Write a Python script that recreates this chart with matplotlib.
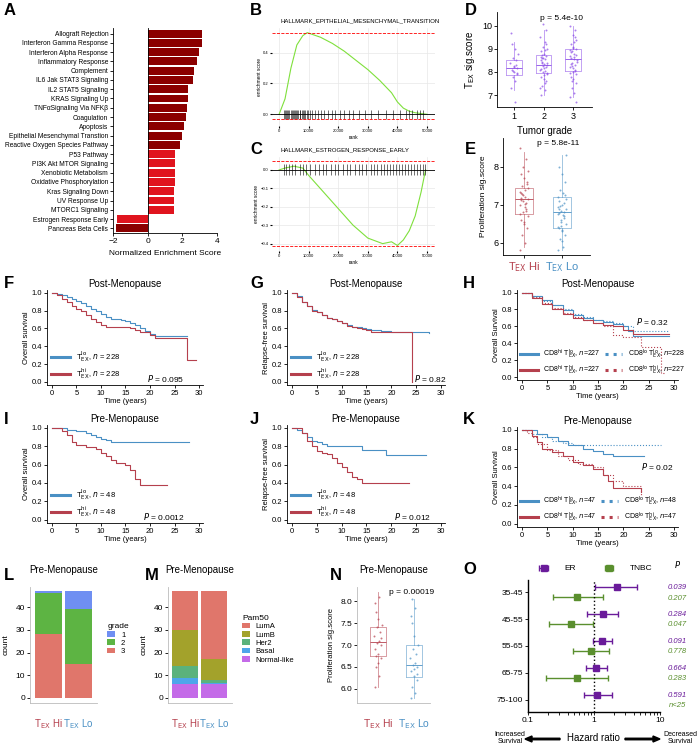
import numpy as np
import matplotlib
matplotlib.use('Agg')
from matplotlib import pyplot as plt
from matplotlib.lines import Line2D

plt.rcParams['font.family'] = ['Liberation Sans', 'DejaVu Sans']
plt.rcParams['font.size'] = 6

W, H = 700, 747
fig = plt.figure(figsize=(7, 7.47), dpi=100)

BLUE = '#4a90c4'
RED = '#b5404d'
GREEN = '#5a8f2e'
PURPLE = '#6a1b9a'

# ---- data ----
pathways = ['Allograft Rejection', 'Interferon Gamma Response', 'Interferon Alpha Response',
            'Inflammatory Response', 'Complement', 'IL6 Jak STAT3 Signaling', 'IL2 STAT5 Signaling',
            'KRAS Signaling Up', 'TNFαSignaling Via NFKβ', 'Coagulation', 'Apoptosis',
            'Epithelial Mesenchymal Transtion', 'Reactive Oxygen Species Pathway', 'P53 Pathway',
            'PI3K Akt MTOR Signaling', 'Xenobiotic Metabolism', 'Oxidative Phosphorylation',
            'Kras Signaling Down', 'UV Response Up', 'MTORC1 Signaling', 'Estrogen Response Early',
            'Pancreas Beta Cells']
nes = [3.15, 3.12, 2.95, 2.83, 2.65, 2.6, 2.35, 2.32, 2.28, 2.2, 2.12, 1.98, 1.88,
       1.58, 1.58, 1.56, 1.55, 1.53, 1.52, 1.5, -1.75, -1.82]
nes_colors = ['#8b0000'] * 13 + ['#e0141e'] * 7 + ['#e0141e', '#8b0000']

emt_rank = [0, 2000, 4000, 6000, 8000, 9500, 11000, 14000, 18000, 22000, 26000, 30000,
            34000, 38000, 40000, 42000, 44000, 46000, 48000, 50000]
emt_es = [0, 0.1, 0.3, 0.45, 0.51, 0.53, 0.52, 0.5, 0.46, 0.41, 0.35, 0.29, 0.22, 0.14,
          0.08, 0.04, 0.02, 0.01, 0.005, 0]
emt_hits = [1500, 2000, 2400, 2800, 3100, 3500, 3900, 4200, 4600, 5000, 5300, 5700, 6100,
            6500, 6900, 7200, 7600, 8000, 8400, 8800, 9300, 9800, 10500, 11200, 12000, 13000,
            14000, 15200, 16500, 17800, 19000, 20500, 22000, 23500, 25000, 27000, 29000, 31000,
            33500, 36000, 38500, 41000, 43000, 44000, 45000, 46500, 47500, 48500]
er_rank = [0, 2000, 5000, 8000, 10000, 15000, 20000, 25000, 30000, 35000, 38000, 40000,
           42000, 44000, 46000, 48000, 49500]
er_es = [0, 0.01, 0.02, 0.01, -0.03, -0.12, -0.21, -0.3, -0.37, -0.4, -0.39, -0.41, -0.38,
         -0.33, -0.25, -0.12, 0]
er_hits = [1500, 2500, 3500, 4500, 5500, 7000, 8000, 9000, 10500, 12000, 13500, 15000, 16000,
           17500, 19000, 20000, 21500, 23000, 24000, 25500, 27000, 28000, 29500, 31000, 32000,
           33000, 34500, 35500, 36500, 37500, 38500, 39500, 40500, 41500, 42500, 43500, 44500,
           45500, 46500, 47500, 48500, 49200]

grade_labels = ['1', '2', '3']
grade_stats = [(7.85, 8.15, 8.5, 7.2, 9.3), (7.95, 8.3, 8.75, 7.0, 9.8), (8.05, 8.55, 9.0, 6.9, 10.0)]
grade_pts = [[7.3, 7.6, 7.8, 7.9, 8.0, 8.1, 8.15, 8.2, 8.3, 8.4, 8.5, 8.6, 8.8, 9.0, 9.2, 9.7, 6.7, 8.05, 7.95, 8.25],
             [7.0, 7.2, 7.4, 7.6, 7.7, 7.8, 7.9, 8.0, 8.05, 8.1, 8.2, 8.25, 8.3, 8.35, 8.4, 8.5, 8.55, 8.6,
              8.7, 8.8, 8.9, 9.0, 9.1, 9.3, 9.5, 9.8, 10.1, 7.95, 8.15, 8.45, 8.65, 7.5, 8.75, 9.2,
              7.85, 8.12, 8.38, 8.62, 8.95, 7.3],
             [6.9, 7.1, 7.3, 7.5, 7.7, 7.8, 7.9, 8.0, 8.1, 8.2, 8.3, 8.4, 8.5, 8.55, 8.6, 8.7, 8.8, 8.9,
              9.0, 9.1, 9.2, 9.4, 9.6, 9.8, 10.0, 8.05, 8.25, 8.45, 8.65, 8.85, 8.95, 9.3, 7.6, 6.7,
              8.15, 8.35, 8.75, 9.05, 9.5, 7.95]]

prolif_stats = [(6.75, 7.15, 7.45, 5.9, 8.4), (6.4, 6.8, 7.2, 5.8, 8.3)]
prolif_pts = [[5.8, 6.0, 6.2, 6.4, 6.5, 6.6, 6.7, 6.8, 6.9, 7.0, 7.05, 7.1, 7.15, 7.2, 7.3, 7.35,
               7.4, 7.5, 7.6, 7.7, 7.8, 7.9, 8.0, 8.2, 8.5, 6.85, 7.25, 7.45, 6.95, 7.12,
               6.75, 7.02, 7.28, 7.55, 6.55, 7.18],
              [5.8, 5.9, 6.1, 6.2, 6.3, 6.4, 6.5, 6.6, 6.7, 6.75, 6.8, 6.85, 6.9, 7.0, 7.1, 7.2,
               7.3, 7.4, 7.6, 7.8, 8.0, 8.3, 6.45, 6.65, 6.95, 7.05, 6.55, 7.15, 6.35, 6.78,
               6.42, 6.72, 6.98, 7.25, 6.05, 6.88]]

pre_stats = [(6.75, 7.07, 7.42, 6.05, 8.2), (6.28, 6.55, 7.0, 5.8, 8.05)]
pre_pts = [[6.05, 6.3, 6.5, 6.7, 6.8, 6.9, 7.0, 7.05, 7.1, 7.2, 7.3, 7.4, 7.45, 7.6, 7.75, 7.95, 8.1, 6.75, 7.15, 6.6],
           [5.8, 5.9, 6.05, 6.2, 6.3, 6.4, 6.5, 6.55, 6.6, 6.7, 6.8, 6.9, 7.0, 7.2, 7.5, 7.65, 7.85, 8.05, 6.35, 6.45]]
jitter = [-0.3, 0.1, -0.15, 0.25, 0.0, -0.25, 0.3, -0.05, 0.15, -0.35, 0.2, -0.1, 0.35, 0.05, -0.2]

# survival curves: step times and survival
F_lo_t = [0, 1, 2, 3, 4, 5, 6, 7, 8, 9, 10, 11, 12, 13, 14, 15, 16, 17, 18, 19, 20, 21, 27.5]
F_lo_s = [1, 0.99, 0.97, 0.95, 0.93, 0.91, 0.88, 0.85, 0.82, 0.79, 0.76, 0.73, 0.71, 0.7, 0.69,
          0.68, 0.66, 0.64, 0.6, 0.57, 0.54, 0.51, 0.51]
F_hi_t = [0, 1, 2, 3, 4, 5, 6, 7, 8, 9, 10, 11, 12, 13, 16, 17, 18, 20, 21, 27.5, 29.3]
F_hi_s = [1, 0.97, 0.93, 0.89, 0.85, 0.82, 0.79, 0.75, 0.71, 0.67, 0.64, 0.62, 0.61, 0.61, 0.6,
          0.58, 0.56, 0.53, 0.49, 0.25, 0.25]
G_lo_t = [0, 1, 2, 3, 4, 5, 6, 7, 8, 9, 10, 11, 12, 13, 14, 15, 16, 18, 20, 27.5]
G_lo_s = [1, 0.96, 0.9, 0.85, 0.81, 0.78, 0.75, 0.72, 0.7, 0.68, 0.66, 0.64, 0.62, 0.61, 0.6,
          0.59, 0.58, 0.57, 0.555, 0.55]
G_hi_t = [0, 1, 2, 3, 4, 5, 6, 7, 8, 9, 10, 11, 12, 13, 14, 15, 16, 18, 20, 24.2, 24.21]
G_hi_s = [1, 0.95, 0.89, 0.85, 0.8, 0.78, 0.75, 0.72, 0.7, 0.68, 0.66, 0.63, 0.61, 0.6, 0.59,
          0.58, 0.56, 0.56, 0.555, 0.0, 0.0]
I_lo_t = [0, 3, 5, 7, 8, 9, 10, 11, 12, 28]
I_lo_s = [1, 0.98, 0.96, 0.94, 0.92, 0.9, 0.88, 0.87, 0.85, 0.85]
I_hi_t = [0, 2, 3, 4, 5, 7, 9, 10, 11, 12, 13, 15, 16, 17, 18, 23.5]
I_hi_s = [1, 0.96, 0.92, 0.85, 0.81, 0.79, 0.77, 0.73, 0.69, 0.65, 0.62, 0.6, 0.54, 0.44, 0.38, 0.38]
J_lo_t = [0, 1, 2, 3, 4, 5, 6, 7, 14, 19, 27]
J_lo_s = [1, 0.98, 0.94, 0.9, 0.86, 0.84, 0.82, 0.8, 0.76, 0.7, 0.7]
J_hi_t = [0, 2, 3, 4, 5, 6, 7, 8, 9, 10, 11, 12, 13, 14, 23.5]
J_hi_s = [1, 0.94, 0.86, 0.8, 0.75, 0.73, 0.71, 0.67, 0.62, 0.57, 0.52, 0.46, 0.44, 0.4, 0.4]
H_curves = [  # (times, surv, colour, style)
    ([0, 2, 4, 6, 8, 10, 12, 14, 16, 18, 20, 21, 22, 29], [1, 0.96, 0.91, 0.85, 0.79, 0.74, 0.7, 0.67, 0.65, 0.63, 0.6, 0.55, 0.49, 0.49], BLUE, '-'),
    ([0, 2, 4, 6, 8, 10, 12, 14, 16, 18, 20, 22, 29], [1, 0.96, 0.9, 0.85, 0.8, 0.75, 0.71, 0.68, 0.66, 0.64, 0.6, 0.54, 0.54], BLUE, ':'),
    ([0, 2, 4, 6, 8, 10, 12, 14, 16, 18, 20, 22, 29], [1, 0.94, 0.87, 0.8, 0.75, 0.7, 0.67, 0.64, 0.62, 0.6, 0.56, 0.51, 0.51], RED, '-'),
    ([0, 2, 4, 6, 8, 10, 12, 14, 16, 18, 20, 23.5, 27.5, 28], [1, 0.95, 0.88, 0.82, 0.76, 0.71, 0.67, 0.64, 0.6, 0.5, 0.47, 0.35, 0.05, 0.05], RED, ':'),
]
K_curves = [
    ([0, 3, 5, 7, 9, 12, 14, 16, 18, 24], [1, 0.96, 0.92, 0.88, 0.84, 0.8, 0.77, 0.74, 0.72, 0.72], BLUE, '-'),
    ([0, 2, 4, 6, 8, 10, 27.5], [1, 0.96, 0.92, 0.88, 0.86, 0.84, 0.84], BLUE, ':'),
    ([0, 2, 3, 4, 6, 8, 10, 12, 14, 16, 17, 18, 23.5], [1, 0.93, 0.87, 0.8, 0.76, 0.72, 0.66, 0.62, 0.58, 0.52, 0.46, 0.38, 0.34], RED, '-'),
    ([0, 1, 2, 3, 5, 7, 9, 11, 14, 16, 18, 20, 23.5], [1, 0.97, 0.92, 0.85, 0.78, 0.72, 0.68, 0.64, 0.6, 0.52, 0.45, 0.4, 0.3], RED, ':'),
]

grade_counts = {'3': [28, 15], '2': [18, 24], '1': [1, 8]}
grade_cols = {'1': '#6f8ff2', '2': '#5db443', '3': '#e0766b'}
pam_labels = ['LumA', 'LumB', 'Her2', 'Basal', 'Normal-like']
pam_counts = {'Normal-like': [6, 6], 'Basal': [3, 0.5], 'Her2': [5, 1.5], 'LumB': [16, 9], 'LumA': [17, 30]}
pam_cols = {'LumA': '#e0766b', 'LumB': '#a3a22b', 'Her2': '#5bb27c', 'Basal': '#4ea6ea', 'Normal-like': '#c46be8'}

age_groups = ['35-45', '45-55', '55-65', '65-75', '75-100']
er_hr = [2.2, 1.35, 1.3, 1.08, 1.12]
er_lo = [1.05, 0.78, 0.95, 0.75, 0.7]
er_hi = [4.5, 2.3, 1.9, 1.55, 1.9]
tn_hr = [0.55, 0.45, 0.9, 0.55]
tn_lo = [0.24, 0.21, 0.48, 0.19]
tn_hi = [1.35, 0.98, 1.7, 1.65]
er_p = ['0.039', '0.284', '0.091', '0.664', '0.591']
tn_p = ['0.207', '0.047', '0.778', '0.283', 'n<25']


def ax_px(l, t, r, b):
    return fig.add_axes([l / W, 1 - b / H, (r - l) / W, (b - t) / H])


def letter(x, y, s):
    fig.text(x / W, 1 - y / H, s, fontsize=12, fontweight='bold', va='top', ha='left')


def clean(ax):
    ax.spines['top'].set_visible(False)
    ax.spines['right'].set_visible(False)
    ax.tick_params(length=2, width=0.6, pad=1.5)
    for s in ax.spines.values():
        s.set_linewidth(0.6)


def group_ticks(ax, size):
    ax.set_xticks([1, 2])
    ax.set_xticklabels([r'T$_{\rm EX}$ Hi', r'T$_{\rm EX}$ Lo'], fontsize=size)
    for t, c in zip(ax.get_xticklabels(), [RED, BLUE]):
        t.set_color(c)


TEXLO = r'T$_{\rm EX}^{\rm lo}$'
TEXHI = r'T$_{\rm EX}^{\rm hi}$'

# ---- A ----
ax = ax_px(113, 28, 217, 233)
ypos = np.arange(len(pathways))
ax.barh(ypos, nes, color=nes_colors, height=0.85)
ax.set_ylim(len(pathways) - 0.5, -0.6)
ax.set_xlim(-2, 4)
ax.set_xticks([-2, 0, 2, 4])
ax.set_yticks(ypos)
ax.set_yticklabels(pathways, fontsize=4.8)
ax.axvline(0, color='k', lw=0.6)
clean(ax)
ax.set_xlabel('Normalized Enrichment Score', fontsize=6)
letter(4, 3, 'A')


# ---- B, C ----
def gsea(ax, rank, es, hits, ylim, yticks, top, bot, title):
    ax.grid(color='#e8e8e8', lw=0.5)
    for s in ax.spines.values():
        s.set_visible(False)
    ax.plot(rank, es, color='#7fe03c', lw=0.8)
    ax.axhline(0, color='k', lw=0.6)
    ax.vlines(hits, -0.03, 0.03, color='k', lw=0.4)
    ax.axhline(top, color='red', ls='--', lw=0.6)
    ax.axhline(bot, color='red', ls='--', lw=0.6)
    ax.set_ylim(*ylim)
    ax.set_xlim(-2400, 52700)
    ax.set_yticks(yticks)
    ax.set_xticks([0, 10000, 20000, 30000, 40000, 50000])
    ax.tick_params(labelsize=3, length=1.5, pad=1)
    ax.set_ylabel('enrichment score', fontsize=3.5, labelpad=1)
    ax.set_xlabel('rank', fontsize=3.5, labelpad=1)
    ax.text(0.05, 1.05, title, transform=ax.transAxes, fontsize=4.3, va='bottom')


ax = ax_px(272, 28, 435, 126)
gsea(ax, emt_rank, emt_es, emt_hits, (-0.076, 0.56), [0.0, 0.2, 0.4], 0.53, -0.03,
     'HALLMARK_EPITHELIAL_MESENCHYMAL_TRANSITION')
letter(250, 3, 'B')
ax = ax_px(272, 157, 435, 251)
gsea(ax, er_rank, er_es, er_hits, (-0.44, 0.07), [-0.4, -0.3, -0.2, -0.1, 0.0], 0.05, -0.415,
     'HALLMARK_ESTROGEN_RESPONSE_EARLY')
letter(250, 142, 'C')


# ---- boxplots ----
def boxes(ax, stats, pts, cols, positions, width, size):
    for i, (st, p, c) in enumerate(zip(stats, pts, cols)):
        xs = [positions[i] + jitter[k % len(jitter)] * width for k in range(len(p))]
        ax.scatter(xs, p, s=size, color=c, alpha=0.7, lw=0)
        bx = [{'q1': st[0], 'med': st[1], 'q3': st[2], 'whislo': st[3], 'whishi': st[4], 'fliers': []}]
        ax.bxp(bx, positions=[positions[i]], widths=width * 1.5, showfliers=False,
               boxprops=dict(color=c, lw=0.6, alpha=0.6), medianprops=dict(color=c, lw=0.6),
               whiskerprops=dict(color=c, lw=0.6, alpha=0.6), capprops=dict(lw=0))


ax = ax_px(497, 12, 592, 107)
boxes(ax, grade_stats, grade_pts, ['#8a4be8'] * 3, [1, 2, 3], 0.35, 2)
ax.set_xlim(0.42, 3.64)
ax.set_ylim(6.48, 10.6)
ax.set_xticks([1, 2, 3])
ax.set_xticklabels(grade_labels)
ax.set_yticks([7, 8, 9, 10])
clean(ax)
ax.tick_params(labelsize=6.5)
ax.set_xlabel('Tumor grade', fontsize=7)
ax.set_ylabel(r'T$_{\rm EX}$ sig.score', fontsize=7)
ax.text(2.6, 10.45, 'p = 5.4e-10', ha='center', va='top', fontsize=6)
letter(465, 3, 'D')

ax = ax_px(503, 138, 590, 255)
boxes(ax, prolif_stats, prolif_pts, [RED, BLUE], [1, 2], 0.32, 2)
ax.set_xlim(0.45, 2.74)
ax.set_ylim(5.68, 8.76)
ax.set_yticks([6, 7, 8])
clean(ax)
ax.tick_params(labelsize=6.5)
group_ticks(ax, 8)
ax.set_ylabel('Proliferation sig.score', fontsize=6)
ax.text(1.9, 8.7, 'p = 5.8e-11', ha='center', va='top', fontsize=6)
letter(465, 142, 'E')


# ---- survival ----
def km(ax, curves, title, ylabel, ptxt, px, py):
    for t, s, c, ls in curves:
        ax.step(t, s, where='post', color=c, ls=ls, lw=0.8)
    ax.set_xlim(-1, 30.8)
    ax.set_ylim(-0.035, 1.03)
    ax.set_xticks(range(0, 31, 5))
    ax.set_yticks([0, 0.2, 0.4, 0.6, 0.8, 1.0])
    ax.set_yticklabels(['0.0', '0.2', '0.4', '0.6', '0.8', '1.0'])
    clean(ax)
    ax.tick_params(labelsize=5.5)
    ax.set_title(title, fontsize=7, pad=2)
    ax.set_xlabel('Time (years)', fontsize=5.5, labelpad=1)
    ax.set_ylabel(ylabel, fontsize=5.5, labelpad=1)
    ax.text(px, py, ptxt, fontsize=6, ha='right')


def km_legend(ax, curves, labels, ncol, size):
    lh = [Line2D([], [], color=c, ls=ls, lw=2.2) for _, _, c, ls in curves]
    ax.legend(lh, labels, loc='lower left', frameon=False, fontsize=size, ncol=ncol,
              handlelength=2.5, borderaxespad=0.1, labelspacing=0.3, columnspacing=0.6)


hi_lo = lambda n: [TEXLO + ', $n$ = %d' % n, TEXHI + ', $n$ = %d' % n]
for (l, t, r, b), lo_t, lo_s, hi_t, hi_s, title, yl, ptxt, px, n, let, lx, ly in [
        ((47, 290, 203, 385), F_lo_t, F_lo_s, F_hi_t, F_hi_s, 'Post-Menopause', 'Overall survival', '$P$ = 0.095', 27, 228, 'F', 4, 276),
        ((287, 290, 445, 385), G_lo_t, G_lo_s, G_hi_t, G_hi_s, 'Post-Menopause', 'Relapse-free survival', '$P$ = 0.82', 31, 228, 'G', 250, 276),
        ((47, 425, 203, 523), I_lo_t, I_lo_s, I_hi_t, I_hi_s, 'Pre-Menopause', 'Overall survival', '$P$ = 0.0012', 27, 48, 'I', 4, 412),
        ((287, 425, 445, 523), J_lo_t, J_lo_s, J_hi_t, J_hi_s, 'Pre-Menopause', 'Relapse-free survival', '$P$ = 0.012', 28, 48, 'J', 250, 412)]:
    ax = ax_px(l, t, r, b)
    cv = [(lo_t, lo_s, BLUE, '-'), (hi_t, hi_s, RED, '-')]
    km(ax, cv, title, yl, ptxt, px, 0.0)
    km_legend(ax, cv, hi_lo(n), 1, 5.5)
    letter(lx, ly, let)

cd = lambda a, b, n: 'CD8$^{\\rm %s}$ T$_{\\rm EX}^{\\rm %s}$, $n$=%d' % (a, b, n)
ax = ax_px(517, 290, 678, 380)
km(ax, H_curves, 'Post-Menopause', 'Overall Survival', '$P$ = 0.32', 29, 0.62)
km_legend(ax, [H_curves[0], H_curves[2], H_curves[1], H_curves[3]],
          [cd('hi', 'lo', 227), cd('hi', 'hi', 227), cd('lo', 'lo', 228), cd('lo', 'hi', 227)], 2, 5)
letter(463, 276, 'H')
ax = ax_px(517, 427, 678, 527)
km(ax, K_curves, 'Pre-Menopause', 'Overall Survival', '$P$ = 0.02', 30, 0.57)
km_legend(ax, [K_curves[0], K_curves[2], K_curves[1], K_curves[3]],
          [cd('hi', 'lo', 47), cd('hi', 'hi', 47), cd('lo', 'lo', 48), cd('lo', 'hi', 47)], 2, 5)
letter(463, 412, 'K')


# ---- L, M stacked ----
def stacked(ax, order, counts, cols, legtitle, legorder):
    bottom = np.zeros(2)
    for k in order:
        ax.bar([1, 2], counts[k], bottom=bottom, color=cols[k], width=0.9, label=k)
        bottom += np.array(counts[k])
    ax.set_xlim(0.4, 2.63)
    ax.set_ylim(-2.2, 48.8)
    ax.set_yticks([0, 10, 20, 30, 40])
    clean(ax)
    group_ticks(ax, 7)
    ax.tick_params(axis='x', length=0, pad=10)
    ax.spines['left'].set_color('#bbbbbb')
    ax.spines['bottom'].set_color('#bbbbbb')
    ax.set_ylabel('count', fontsize=6)
    h, l = ax.get_legend_handles_labels()
    hd = dict(zip(l, h))
    ax.legend([hd[k] for k in legorder], legorder, title=legtitle, loc='center left',
              bbox_to_anchor=(1.05, 0.55), frameon=False, fontsize=5.5, title_fontsize=6,
              handlelength=1, handleheight=0.8, labelspacing=0.1, alignment='left')
    ax.text(0.5, 1.1, 'Pre-Menopause', transform=ax.transAxes, fontsize=7, ha='center', va='bottom')


ax = ax_px(30, 587, 97, 703)
stacked(ax, ['3', '2', '1'], grade_counts, grade_cols, 'grade', grade_labels)
letter(4, 568, 'L')
ax = ax_px(168, 587, 232, 703)
stacked(ax, ['Normal-like', 'Basal', 'Her2', 'LumB', 'LumA'], pam_counts, pam_cols, 'Pam50', pam_labels)
letter(145, 568, 'M')

# ---- N ----
ax = ax_px(357, 587, 430, 703)
boxes(ax, pre_stats, pre_pts, [RED, BLUE], [1, 2], 0.3, 2)
ax.set_xlim(0.42, 2.45)
ax.set_ylim(5.68, 8.32)
ax.set_yticks([6.0, 6.5, 7.0, 7.5, 8.0])
clean(ax)
group_ticks(ax, 7.5)
ax.tick_params(axis='x', length=0, pad=10)
ax.spines['left'].set_color('#bbbbbb')
ax.spines['bottom'].set_color('#bbbbbb')
ax.set_ylabel('Proliferation sig.score', fontsize=5.5)
ax.text(1.95, 8.27, 'p = 0.00019', fontsize=6, ha='center', va='top')
ax.text(0.5, 1.1, 'Pre-Menopause', transform=ax.transAxes, fontsize=7, ha='center', va='bottom')
letter(330, 568, 'N')

# ---- O ----
ax = ax_px(528, 580, 660, 712)
rows = np.arange(len(age_groups))
ax.errorbar(er_hr, rows - 0.18, xerr=[np.array(er_hr) - er_lo, np.array(er_hi) - er_hr],
            fmt='s', color=PURPLE, ms=4, capsize=2, lw=1, label='ER')
ax.errorbar(tn_hr, rows[:4] + 0.18, xerr=[np.array(tn_hr) - tn_lo, np.array(tn_hi) - tn_hr],
            fmt='s', color=GREEN, ms=4, capsize=2, lw=1, label='TNBC')
ax.set_xscale('log')
ax.set_xlim(0.1, 10)
ax.set_ylim(4.45, -0.45)
ax.axvline(1, color='k', ls=':', lw=1)
ax.set_yticks(rows)
ax.set_yticklabels(age_groups)
ax.set_xticks([0.1, 1, 10])
ax.set_xticklabels(['0.1', '1', '10'])
clean(ax)
ax.spines['left'].set_linewidth(1)
ax.spines['bottom'].set_linewidth(1)
ax.legend(loc='lower center', bbox_to_anchor=(0.5, 1.0), ncol=2, frameon=False, fontsize=6,
          handletextpad=1.5, columnspacing=3)
ax.text(1.13, -0.9, '$P$', transform=ax.get_yaxis_transform(), fontsize=6, style='italic', ha='center')
for i in rows:
    ax.text(1.13, i - 0.18, er_p[i], transform=ax.get_yaxis_transform(), color=PURPLE,
            fontsize=5.5, style='italic', ha='center', va='center')
    ax.text(1.13, i + 0.22, tn_p[i], transform=ax.get_yaxis_transform(), color=GREEN,
            fontsize=5.5, style='italic', ha='center', va='center')
fig.text(593 / W, 1 - 738 / H, 'Hazard ratio', fontsize=7, ha='center', va='center')
fig.text(510 / W, 1 - 738 / H, 'Increased\nSurvival', fontsize=5, ha='center', va='center', linespacing=0.9)
fig.text(680 / W, 1 - 738 / H, 'Decreased\nSurvival', fontsize=5, ha='center', va='center', linespacing=0.9)
fig.add_artist(matplotlib.patches.FancyArrow(560 / W, 1 - 739 / H, -28 / W, 0, width=0.002,
                                             head_width=0.008, head_length=0.01, color='k'))
fig.add_artist(matplotlib.patches.FancyArrow(625 / W, 1 - 739 / H, 28 / W, 0, width=0.002,
                                             head_width=0.008, head_length=0.01, color='k'))
letter(463, 562, 'O')

fig.savefig('out.png', dpi=100)
